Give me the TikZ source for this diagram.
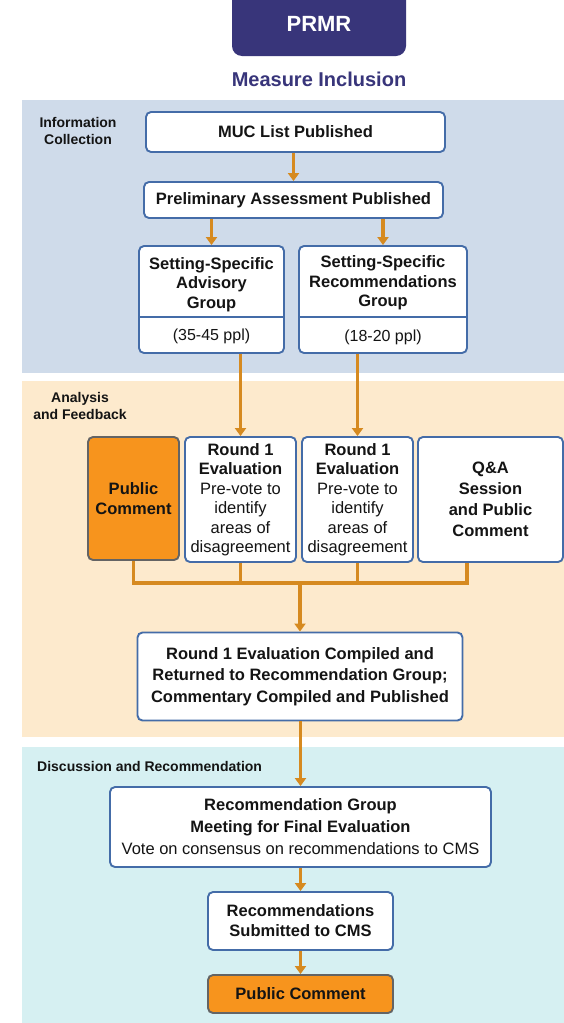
\documentclass[tikz,border=0pt]{standalone}
\usepackage{fontspec}
\setmainfont{Liberation Sans}
\usetikzlibrary{arrows.meta}
\definecolor{prmrblue}{RGB}{56,53,122}
\definecolor{bandA}{RGB}{207,219,234}
\definecolor{bandB}{RGB}{253,234,205}
\definecolor{bandC}{RGB}{214,240,242}
\definecolor{boxblue}{RGB}{68,108,168}
\definecolor{arrorange}{RGB}{214,138,32}
\definecolor{pcorange}{RGB}{247,148,29}
\definecolor{pcborder}{RGB}{100,100,100}
\definecolor{txt}{RGB}{20,20,20}
\begin{document}
\begin{tikzpicture}[x=1pt,y=-1pt,
  box/.style={draw=boxblue, line width=1.9pt, rounded corners=5pt, fill=white, inner sep=0pt, align=center, text=txt},
  pcbox/.style={box, draw=pcborder, fill=pcorange},
  bt/.style={font=\bfseries\fontsize{16.5}{19.5}\selectfont},
  lab/.style={font=\bfseries\fontsize{14}{17}\selectfont, text=txt, align=center, inner sep=0pt},
  plain/.style={inner sep=0pt, align=center, text=txt},
  conn/.style={draw=arrorange, line width=3.2pt},
  arr/.style={conn, -{Triangle[length=8pt,width=11pt]}}
]
\useasboundingbox (0,0) rectangle (564,1023);
\fill[white] (0,0) rectangle (564,1023);
% bands
\fill[bandA] (22,100) rectangle (564,373);
\fill[bandB] (22,381) rectangle (564,737);
\fill[bandC] (22,747) rectangle (564,1023);
% header
\node[fill=prmrblue, rounded corners=10pt, minimum width=174pt, minimum height=70pt, inner sep=0pt] (prmr) at (319,21) {};
\node[plain, text=white, font=\bfseries\fontsize{22}{26}\selectfont] (prmrt) at (319,24) {PRMR};
\node[plain, text=prmrblue, font=\bfseries\fontsize{20}{24}\selectfont] (mi) at (319,79) {Measure Inclusion};
% section labels
\node[lab] (l1) at (78,131) {Information\\Collection};
\node[lab] (l2) at (80,406) {Analysis\\and Feedback};
\node[lab, anchor=west] (l3) at (37,766) {Discussion and Recommendation};
% boxes
\node[box, bt, minimum width=299pt, minimum height=40pt] (muc) at (295.5,132) {MUC List Published};
\node[box, bt, minimum width=299pt, minimum height=36pt] (pre) at (293.5,200) {Preliminary Assessment Published};
\node[box, minimum width=145pt, minimum height=107pt] (ssag) at (211.5,299.5) {};
\node[box, minimum width=168pt, minimum height=107pt] (ssrg) at (383,299.5) {};
\draw[boxblue, line width=1.9pt] (ssag.west |- 0,317) -- (ssag.east |- 0,317);
\draw[boxblue, line width=1.9pt] (ssrg.west |- 0,317) -- (ssrg.east |- 0,317);
\node[plain, bt] (ssagt) at (211.5,284.5) {Setting-Specific\\Advisory\\Group};
\node[plain, font=\fontsize{16}{19}\selectfont] (ssagp) at (211.5,336) {(35-45 ppl)};
\node[plain, bt] (ssrgt) at (383,283) {Setting-Specific\\Recommendations\\Group};
\node[plain, font=\fontsize{16}{19}\selectfont] (ssrgp) at (383,337) {(18-20 ppl)};

\node[pcbox, bt, minimum width=91pt, minimum height=123pt] (pc1) at (133.5,498.5) {Public\\Comment};
\node[box, bt, minimum width=111pt, minimum height=125pt] (r1a) at (240.5,499.5) {Round 1\\Evaluation\\\mdseries Pre-vote to\\\mdseries identify\\\mdseries areas of\\\mdseries disagreement};
\node[box, bt, minimum width=111pt, minimum height=125pt] (r1b) at (357.5,499.5) {Round 1\\Evaluation\\\mdseries Pre-vote to\\\mdseries identify\\\mdseries areas of\\\mdseries disagreement};
\node[box, font=\bfseries\fontsize{16.5}{21}\selectfont, minimum width=145pt, minimum height=125pt] (qa) at (490.5,499.5) {Q\&A\\Session\\and Public\\Comment};

\node[box, font=\bfseries\fontsize{16.5}{21.5}\selectfont, minimum width=325pt, minimum height=88pt] (comp) at (300,676.5) {Round 1 Evaluation Compiled and\\Returned to Recommendation Group;\\Commentary Compiled and Published};
\node[box, font=\bfseries\fontsize{16.5}{22}\selectfont, minimum width=381pt, minimum height=80pt] (recg) at (300.5,827) {Recommendation Group\\Meeting for Final Evaluation\\\mdseries Vote on consensus on recommendations to CMS};
\node[box, font=\bfseries\fontsize{16.5}{20}\selectfont, minimum width=185pt, minimum height=58pt] (sub) at (300.5,921) {Recommendations\\Submitted to CMS};
\node[pcbox, bt, minimum width=185pt, minimum height=38pt] (pc2) at (300.5,994) {Public Comment};

% connectors
\draw[arr] (pre.north |- muc.south) -- (pre.north);
\draw[arr] (ssag.north |- pre.south) -- (ssag.north);
\draw[arr] (ssrg.north |- pre.south) -- (ssrg.north);
\draw[arr] (r1a.north |- ssag.south) -- (r1a.north);
\draw[arr] (r1b.north |- ssrg.south) -- (r1b.north);
\coordinate (busR) at (467,583);
\coordinate (busM) at (comp.north |- busR);
\draw[conn, line join=miter] (pc1.south) |- (busR) -- (qa.south -| busR);
\draw[conn] (r1a.south) -- (r1a.south |- busR);
\draw[conn] (r1b.south) -- (r1b.south |- busR);
\draw[arr] (busM) -- (comp.north);
\draw[arr] (recg.north |- comp.south) -- (recg.north);
\draw[arr] (recg.south) -- (sub.north);
\draw[arr] (sub.south) -- (pc2.north);
\end{tikzpicture}
\end{document}
